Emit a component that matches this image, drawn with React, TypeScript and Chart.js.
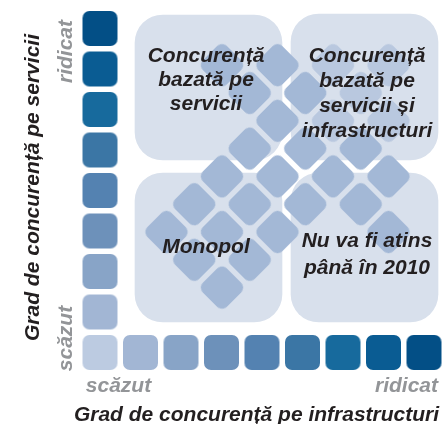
import React, { useEffect, useRef } from 'react';
import { Chart, registerables } from 'chart.js';

Chart.register(...registerables);

// ---------- data ----------
const levelColors = ['#bccbe1', '#a2b6d4', '#88a4c7', '#6d91ba', '#5482b1', '#3b76a5', '#176a9d', '#0a5c93', '#034f86'];
const infraLevels = [0, 1, 2, 3, 4, 5, 6, 7, 8];
const serviceLevels = [1, 2, 3, 4, 5, 6, 7, 8];

// diamond lattice cells: [column, row]
const diamondCells = [
  [2, -2], [1, -1], [3, -1], [0, 0], [2, 0], [4, 0], [8, 0],
  [1, 1], [3, 1], [5, 1], [7, 1], [2, 2], [4, 2], [6, 2], [8, 2],
  [3, 3], [5, 3], [7, 3], [4, 4], [3, 5], [5, 5], [2, 6], [4, 6],
];
const diamondCellsFaint = [[6, 4], [8, 4], [7, 5], [6, 6], [8, 6]];

const quadrantLabels = [
  ['Concurență', 'bazată pe', 'servicii'],
  ['Concurență', 'bazată pe', 'servicii și', 'infrastructuri'],
  ['Monopol'],
  ['Nu va fi atins', 'până în 2010'],
];
const lowLabel = 'scăzut';
const highLabel = 'ridicat';
const xTitle = 'Grad de concurență pe infrastructuri';
const yTitle = 'Grad de concurență pe servicii';

// ---------- layout (level units; 1 level = one tile step) ----------
const STEP = 40.5;
const OX = 100;
const OY = 352.5;
const lx = (px: number) => (px - OX) / STEP;
const ly = (py: number) => (OY - py) / STEP;

const LAT_X0 = lx(166.5);
const LAT_Y0 = ly(232);
const LAT_DX = 27.75 / STEP;
const LAT_DY = 27.8 / STEP;

const boxes = [
  { x: lx(208.5), y: [ly(160), ly(15)] },
  { x: lx(364.5), y: [ly(160), ly(14)] },
  { x: lx(208.5), y: [ly(322), ly(173)] },
  { x: lx(364.5), y: [ly(322), ly(173)] },
];
const textPos = [
  { x: lx(206), y: ly(62), lh: 24 },
  { x: lx(367), y: ly(62), lh: 25 },
  { x: lx(206), y: ly(253), lh: 25 },
  { x: lx(367), y: ly(247), lh: 27 },
];

function roundedPath(g: CanvasRenderingContext2D, x: number, y: number, w: number, h: number, r: number) {
  g.beginPath();
  g.moveTo(x + r, y);
  g.lineTo(x + w - r, y);
  g.arcTo(x + w, y, x + w, y + r, r);
  g.lineTo(x + w, y + h - r);
  g.arcTo(x + w, y + h, x + w - r, y + h, r);
  g.lineTo(x + r, y + h);
  g.arcTo(x, y + h, x, y + h - r, r);
  g.lineTo(x, y + r);
  g.arcTo(x, y, x + r, y, r);
  g.closePath();
}

function makeTile(color: string, side: number, radius: number) {
  const pad = 1;
  const c = document.createElement('canvas');
  c.width = side + 2 * pad;
  c.height = side + 2 * pad;
  const g = c.getContext('2d')!;
  g.fillStyle = color;
  roundedPath(g, pad, pad, side, side, radius);
  g.fill();
  return c;
}

const FONT = '"Liberation Sans", Arial, Helvetica, sans-serif';

const textPlugin = {
  id: 'diagramText',
  afterDatasetsDraw(chart: any) {
    const { ctx, scales } = chart;
    const x = scales.x;
    const y = scales.y;
    ctx.save();
    ctx.font = `italic bold 21px ${FONT}`;
    ctx.textBaseline = 'alphabetic';
    ctx.fillStyle = '#231f20';
    ctx.textAlign = 'center';
    quadrantLabels.forEach((lines, i) => {
      const p = textPos[i];
      const cx = x.getPixelForValue(p.x);
      const by = y.getPixelForValue(p.y);
      lines.forEach((line, k) => ctx.fillText(line, cx, by + k * p.lh));
    });

    const vText = (t: string, px: number, py: number, color: string) => {
      ctx.save();
      ctx.fillStyle = color;
      ctx.translate(x.getPixelForValue(px), y.getPixelForValue(py));
      ctx.rotate(-Math.PI / 2);
      ctx.textAlign = 'center';
      ctx.fillText(t, 0, 0);
      ctx.restore();
    };
    const gray = '#939598';
    vText(highLabel, lx(72), ly(51.5), gray);
    vText(lowLabel, lx(72), ly(338.5), gray);
    vText(yTitle, lx(39), ly(187.5), '#231f20');

    ctx.fillStyle = gray;
    ctx.textAlign = 'center';
    ctx.fillText(lowLabel, x.getPixelForValue(lx(118.5)), y.getPixelForValue(ly(392)));
    ctx.textAlign = 'right';
    ctx.fillText(highLabel, x.getPixelForValue(lx(438)), y.getPixelForValue(ly(392)));
    ctx.fillStyle = '#231f20';
    ctx.textAlign = 'center';
    ctx.fillText(xTitle, x.getPixelForValue(lx(256.5)), y.getPixelForValue(ly(421)));
    ctx.restore();
  },
};

export default function App() {
  const ref = useRef<HTMLCanvasElement>(null);

  useEffect(() => {
    const squareTiles = levelColors.map((c) => makeTile(c, 35, 7));
    const diamondTile = makeTile('#a3b8d6', 34, 7);
    const diamondFaintTile = makeTile('#b9c8df', 34, 7);

    const squarePoints = [
      ...infraLevels.map((i) => ({ x: i, y: 0, lvl: i })),
      ...serviceLevels.map((j) => ({ x: 0, y: j, lvl: j })),
    ];
    const toLattice = (cells: number[][]) =>
      cells.map(([a, c]) => ({ x: LAT_X0 + a * LAT_DX, y: LAT_Y0 + c * LAT_DY }));

    const chart = new Chart(ref.current!, {
      type: 'scatter',
      data: {
        datasets: [
          {
            type: 'scatter',
            data: toLattice(diamondCells),
            pointStyle: diamondTile as any,
            pointRadius: 17,
            rotation: 45,
            order: 1,
            clip: false as any,
          },
          {
            type: 'scatter',
            data: toLattice(diamondCellsFaint),
            pointStyle: diamondFaintTile as any,
            pointRadius: 17,
            rotation: 45,
            order: 1.5,
            clip: false as any,
          },
          {
            type: 'scatter',
            data: squarePoints.map((p) => ({ x: p.x, y: p.y })),
            pointStyle: squarePoints.map((p) => squareTiles[p.lvl]) as any,
            pointRadius: 18,
            order: 2,
            clip: false as any,
          },
          {
            type: 'bar',
            data: boxes as any,
            backgroundColor: '#d8e0ec',
            borderWidth: 0,
            borderRadius: 28,
            borderSkipped: false,
            barThickness: 147,
            grouped: false,
            order: 3,
          } as any,
        ],
      },
      options: {
        animation: false,
        responsive: false,
        events: [],
        layout: { padding: 0, autoPadding: false },
        plugins: { legend: { display: false }, tooltip: { enabled: false } },
        scales: {
          x: { type: 'linear', display: false, min: lx(0), max: lx(442), offset: false, bounds: 'data' },
          y: { type: 'linear', display: false, min: ly(424), max: ly(0), offset: false, bounds: 'data', beginAtZero: false },
        },
      },
      plugins: [textPlugin],
    });
    return () => chart.destroy();
  }, []);

  return (
    <div style={{ position: 'fixed', left: 0, top: 0, width: 442, height: 424, background: '#ffffff' }}>
      <canvas ref={ref} width={442} height={424} style={{ display: 'block' }} />
    </div>
  );
}
